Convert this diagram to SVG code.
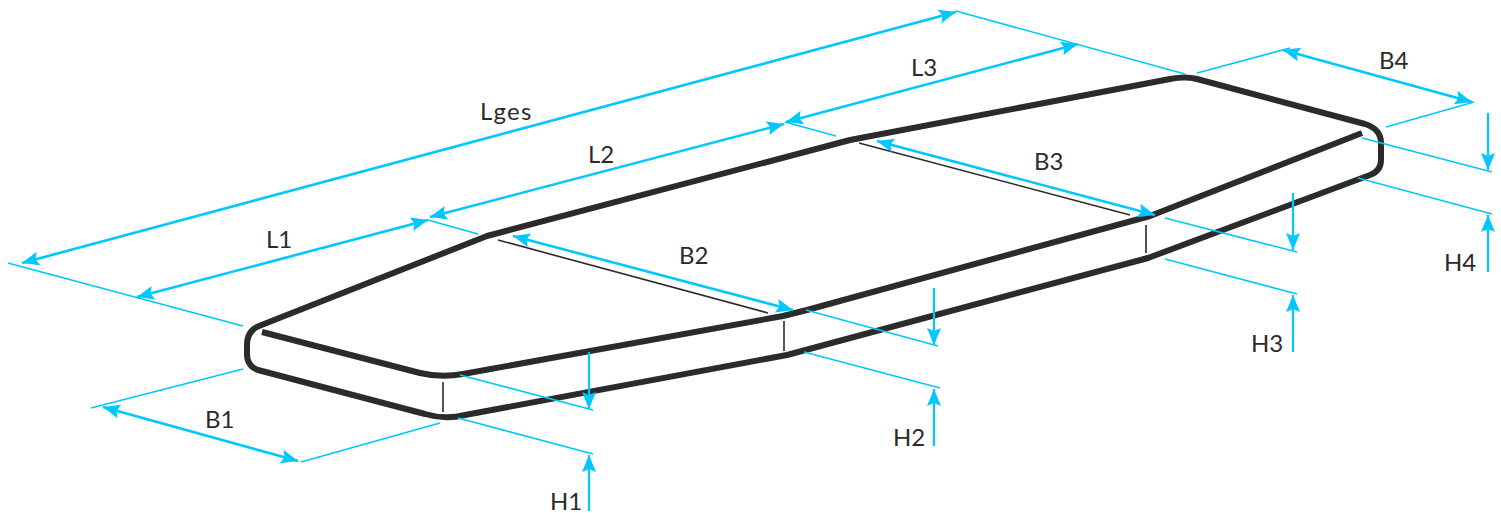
<svg xmlns="http://www.w3.org/2000/svg" width="1501" height="513" viewBox="0 0 1501 513">
<style>
.bg{fill:#fff}
.body{fill:none;stroke:#2b2b2b;stroke-width:6;stroke-linejoin:round}
.thin{fill:none;stroke:#2b2b2b;stroke-width:1.6}
.ext{fill:none;stroke:#00c8ff;stroke-width:1.6}
.dim{fill:none;stroke:#00c8ff;stroke-width:2.6;marker-start:url(#ah);marker-end:url(#ah)}
.one{fill:none;stroke:#00c8ff;stroke-width:2.2;marker-end:url(#ah)}
text{font-family:"Lato","Liberation Sans",sans-serif;font-size:24px;fill:#2b2b2b}
</style>
<defs>
<marker id="ah" markerUnits="userSpaceOnUse" markerWidth="20" markerHeight="16" refX="17" refY="7" orient="auto-start-reverse" viewBox="0 0 20 14">
<path d="M0,0 L17,7 L0,14 L3,7 Z" fill="#00c8ff"/>
</marker>
</defs>
<rect class="bg" width="1501" height="513"/>
<g id="body">
<path class="body" d="M262,332 L420,373 Q441,378 463,374 L783,316 L807,310 L1150,216 L1362,133"/>
<path class="body" d="M247,345 Q247,331 259,326 L487,236 L850,140 L1170,79 Q1185,76 1197,79 L1365,124 Q1381,129 1381,143 V160 Q1381,171 1370,175 L1148,258 L787,355 L465,415 Q445,420 425,414 L258,370 Q247,366 247,354 Z"/>
<path class="thin" d="M498,240 L768,313 M859,143 L1130,215 M443,382 V412 M784,321 V351 M1146,225 V253"/>
</g>
<g id="connectors">
<path class="ext" d="M8,263 L243,326 M91,408 L243,369 M301,462 L440,423 M428,220 L478,234 M785,122 L836,136 M956,11 L1185,74 M1197,73 L1290,48 M1386,127 L1474,102 M1362,138 L1492,172 M1358,178 L1492,214 M1165,218 L1297,252 M1165,259 L1297,294 M806,310 L938,346 M804,352 L940,388 M460,375 L593,410 M458,418 L593,454"/>
<path class="dim" d="M22,263 L956,12"/>
<path class="dim" d="M137,297 L428,220"/>
<path class="dim" d="M430,217 L784,124"/>
<path class="dim" d="M786,122 L1078,44"/>
<path class="dim" d="M103,407 L298,461"/>
<path class="dim" d="M513,236 L793,310"/>
<path class="dim" d="M877,141 L1155,215"/>
<path class="dim" d="M1283,50 L1472,102"/>
<path class="one" d="M589,352 V409"/>
<path class="one" d="M589,511 V455"/>
<path class="one" d="M934,288 V345"/>
<path class="one" d="M934,446 V389"/>
<path class="one" d="M1293,193 V250"/>
<path class="one" d="M1293,352 V295"/>
<path class="one" d="M1488,113 V170"/>
<path class="one" d="M1488,272 V215"/>
</g>
<g id="labels">
<text x="480" y="120" letter-spacing="1.2">Lges</text>
<text x="266" y="248">L1</text>
<text x="588" y="163">L2</text>
<text x="911" y="76">L3</text>
<text x="205" y="428">B1</text>
<text x="679" y="264">B2</text>
<text x="1034" y="170">B3</text>
<text x="1379" y="69">B4</text>
<text x="550" y="510">H1</text>
<text x="893" y="446">H2</text>
<text x="1251" y="352">H3</text>
<text x="1444" y="271">H4</text>
</g>
</svg>
